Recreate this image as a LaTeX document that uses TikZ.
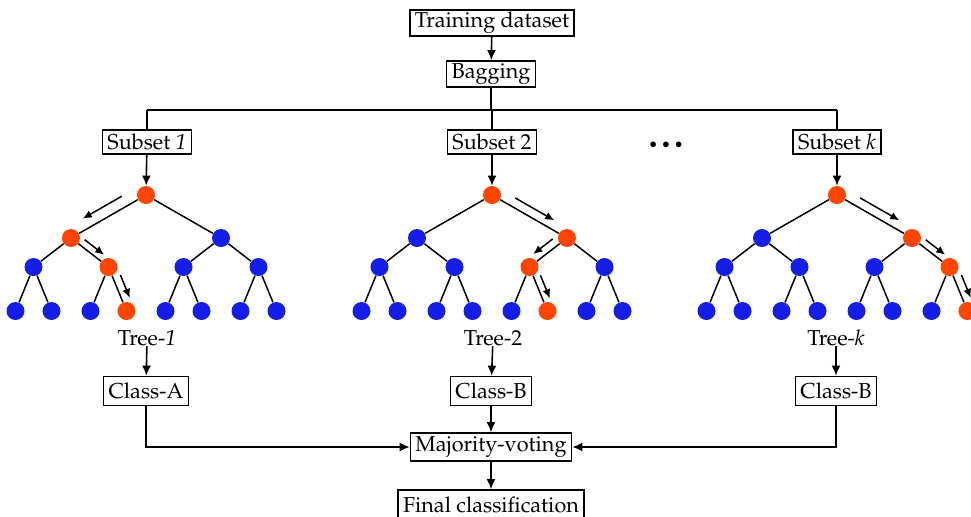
\documentclass[tikz,border=0pt]{standalone}
\usepackage[T1]{fontenc}
\usepackage{mathpazo}
\usepackage{xcolor}
\usepackage{tikz}
\usetikzlibrary{arrows.meta,calc}

\tikzset{
  box/.style={draw=drawColor,line width=0.85pt,inner xsep=2.5pt,inner ysep=1pt,minimum height=13pt,
    text=drawColor,font=\fontsize{10.8}{13}\selectfont},
  lbl/.style={inner sep=0pt,text=drawColor,font=\fontsize{10.8}{13}\selectfont},
  flow/.style={draw=drawColor,line width=0.8pt,-{Latex[length=5pt,width=4.5pt]}},
  link/.style={draw=drawColor,line width=0.8pt},
  branch/.style={draw=drawColor,line width=0.75pt},
  walk/.style={draw=drawColor,line width=0.75pt,-{Latex[length=4.5pt,width=4pt]}},
  nodeblue/.style={circle,fill=blueColor,inner sep=0pt,minimum size=9pt},
  nodered/.style={nodeblue,fill=redColor}
}

\newcommand{\walk}[4]{\draw[walk] ($(#1)!0.25!(#2)!#4!#3:(#2)$) -- ($(#1)!0.77!(#2)!#4!#3:(#2)$);}

\begin{document}
\begin{tikzpicture}[x=0.5pt,y=-0.5pt]
\definecolor{drawColor}{RGB}{0,0,0}
\definecolor{redColor}{RGB}{255,69,0}
\definecolor{blueColor}{RGB}{20,30,230}
\path[use as bounding box,fill=white] (0,0) rectangle (971,516);

\node[box] (train) at (492,23) {Training dataset};
\node[box] (bag) at (491,74) {Bagging};
\coordinate (bus) at (0,110);
\node[box,minimum height=12pt] (sub1) at (147,142) {Subset \textit{1}};
\node[box,minimum height=12pt] (sub2) at (492,142) {Subset 2};
\node[box,minimum height=12pt] (subk) at (837,142) {Subset \textit{k}};
\node[lbl,font=\scriptsize] (dots) at (666,145) {$\bullet\,\bullet\,\bullet$};

\foreach \t/\cx/\ra/\rb/\rc in {1/146/2/5/11,2/492/3/6/13,k/837/3/7/15}{
  \foreach \i/\dx/\y in {1/0/195,2/-75/238,3/75/238,4/-112.5/267,5/-37.5/267,6/37.5/267,7/112.5/267,
      8/-130.5/311,9/-94.5/311,10/-55.5/311,11/-19.5/311,12/19.5/311,13/55.5/311,14/94.5/311,15/130.5/311}{
    \def\nstyle{nodeblue}
    \ifnum\i=1 \def\nstyle{nodered}\fi
    \ifnum\i=\ra \def\nstyle{nodered}\fi
    \ifnum\i=\rb \def\nstyle{nodered}\fi
    \ifnum\i=\rc \def\nstyle{nodered}\fi
    \node[\nstyle] (t\t-\i) at (\cx+\dx,\y) {};
  }
  \foreach \i in {2,...,15}{
    \pgfmathtruncatemacro\p{\i/2}
    \draw[branch] (t\t-\p) -- (t\t-\i);
  }
}

\walk{t1-1}{t1-2}{-90}{5.5pt}
\walk{t1-2}{t1-5}{90}{3.5pt}
\walk{t1-5}{t1-11}{90}{4pt}
\walk{t2-1}{t2-3}{90}{4.5pt}
\walk{t2-3}{t2-6}{-90}{4pt}
\walk{t2-6}{t2-13}{90}{3.5pt}
\walk{tk-1}{tk-3}{90}{4.5pt}
\walk{tk-3}{tk-7}{90}{3.5pt}
\walk{tk-7}{tk-15}{90}{4pt}

\node[lbl] (tree1) at (147,338) {Tree-\textit{1}};
\node[lbl] (tree2) at (493,338) {Tree-2};
\node[lbl] (treek) at (836,338) {Tree-\textit{k}};
\node[box,minimum height=14.5pt] (cls1) at (146,391) {Class-A};
\node[box,minimum height=14.5pt] (cls2) at (491,391) {Class-B};
\node[box,minimum height=14.5pt] (clsk) at (836,391) {Class-B};
\node[box,minimum height=14pt] (vote) at (491,447) {Majority-voting};
\node[box,minimum height=15pt] (final) at (491,505) {Final classification};

\draw[flow] (train) -- (bag);
\draw[link] (bag) -- (bag |- bus);
\draw[link] (sub1 |- bus) -- (subk |- bus);
\foreach \s in {1,2,k}{
  \draw[link] (sub\s |- bus) -- (sub\s);
  \draw[flow] (sub\s) -- (t\s-1);
  \draw[flow] (tree\s) -- (cls\s);
}
\draw[flow] (cls2) -- (vote);
\draw[flow] (cls1) |- (vote);
\draw[flow] (clsk) |- (vote);
\draw[flow] (vote) -- (final);
\end{tikzpicture}
\end{document}
